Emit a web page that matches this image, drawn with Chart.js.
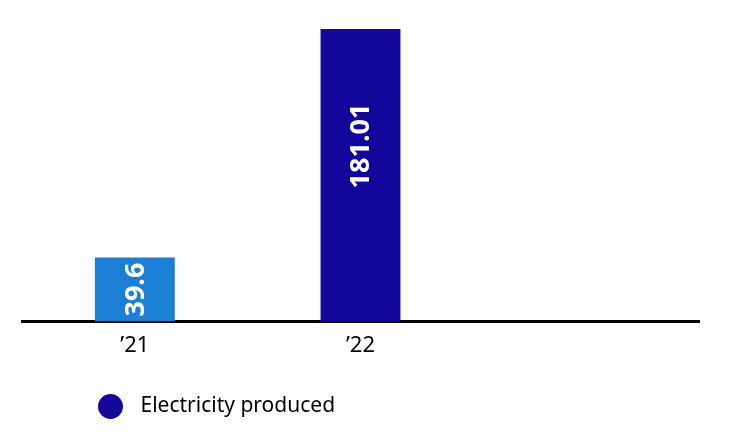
<!DOCTYPE html>
<html>
<head>
<meta charset="utf-8">
<script src="https://cdn.jsdelivr.net/npm/chart.js@4"></script>
<style>
  body { margin: 0; background: #fff; }
  #chart { display: block; }
</style>
</head>
<body>
<canvas id="chart" width="750" height="436"></canvas>
<script>
const years = ["\u201921", "\u201922", ""];
const electricity = [39.6, 181.01, null];
const barColors = ["#1a7fd5", "#12069b", "#12069b"];
const legendLabel = "Electricity produced";

// legend marker: a dot sitting on the left of a wider box so the text has room
const dot = document.createElement("canvas");
dot.width = 32;
dot.height = 25;
(function () {
  const c = dot.getContext("2d");
  c.fillStyle = "#12069b";
  c.beginPath();
  c.arc(12.5, 12.5, 12.5, 0, Math.PI * 2);
  c.fill();
})();

// rotated white value labels inside the bars
const barLabels = {
  id: "barLabels",
  afterDatasetsDraw(chart) {
    const ctx = chart.ctx;
    const meta = chart.getDatasetMeta(0);
    ctx.save();
    ctx.font = "bold 27px 'Noto Sans'";
    ctx.fillStyle = "#fff";
    ctx.textAlign = "center";
    ctx.textBaseline = "middle";
    meta.data.forEach((bar, i) => {
      const v = electricity[i];
      if (v === null) return;
      const h = bar.base - bar.y;
      const txt = String(v);
      const w = ctx.measureText(txt).width;
      // short bars: centred; tall bars: sit higher up
      let y = h > w * 2 ? bar.base - h * 0.6 : bar.base - h / 2;
      ctx.save();
      ctx.translate(bar.x, y);
      ctx.rotate(-Math.PI / 2);
      ctx.fillText(txt, 0, 1);
      ctx.restore();
    });
    ctx.restore();
  }
};

// push the legend in from the left edge
const legendShift = {
  id: "legendShift",
  afterLayout(chart) {
    chart.legend.left += 42;
    chart.legend.right += 42;
  }
};

new Chart(document.getElementById("chart"), {
  type: "bar",
  data: {
    labels: years,
    datasets: [{
      label: legendLabel,
      data: electricity,
      backgroundColor: barColors,
      barPercentage: 0.354,
      categoryPercentage: 1
    }]
  },
  options: {
    responsive: false,
    animation: false,
    layout: { padding: { left: 22, right: 51, top: 29, bottom: 9 } },
    scales: {
      x: {
        grid: { display: false },
        border: { color: "#000", width: 3 },
        ticks: {
          color: "#000",
          font: { family: "'Noto Sans'", size: 22 },
          padding: 3
        }
      },
      y: {
        display: false,
        min: 0,
        max: 181.01
      }
    },
    plugins: {
      tooltip: { enabled: false },
      legend: {
        position: "bottom",
        align: "start",
        labels: {
          usePointStyle: true,
          pointStyleWidth: 32,
          boxHeight: 18,
          padding: 34,
          color: "#111",
          font: { family: "'Noto Sans'", size: 21 },
          generateLabels: () => [{
            text: legendLabel,
            fillStyle: "#12069b",
            strokeStyle: "#12069b",
            lineWidth: 0,
            pointStyle: dot,
            datasetIndex: 0
          }]
        }
      }
    }
  },
  plugins: [barLabels, legendShift]
});
</script>
</body>
</html>
